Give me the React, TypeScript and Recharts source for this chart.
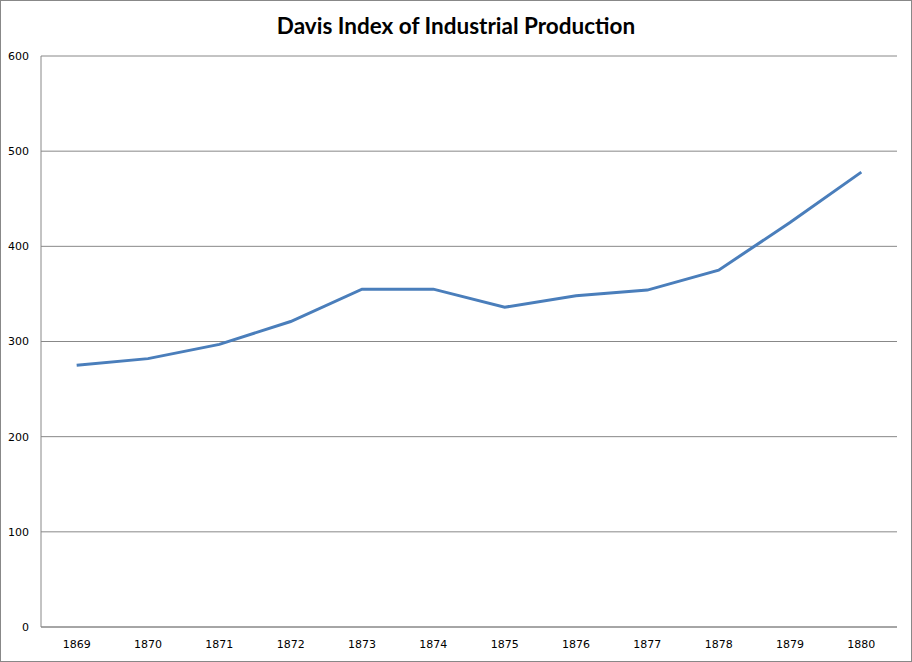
import React from 'react';
import { LineChart, Line, XAxis, YAxis, CartesianGrid } from 'recharts';

const years = ['1869', '1870', '1871', '1872', '1873', '1874', '1875', '1876', '1877', '1878', '1879', '1880'];
const davisIndex = [275, 282, 297, 321, 355, 355, 336, 348, 354, 375, 425, 478];
const yTicks = [0, 100, 200, 300, 400, 500, 600];

const data = years.map((year, i) => ({ year, value: davisIndex[i] }));

const labelFont = { fontFamily: 'Tahoma, "DejaVu Sans", Verdana, sans-serif', fontSize: 11, fill: '#000' };

export default function App() {
  const halfBand = (912 - 41 - 15) / years.length / 2;
  return (
    <div
      style={{
        position: 'fixed',
        top: 0,
        left: 0,
        width: 912,
        height: 662,
        boxSizing: 'border-box',
        border: '1px solid #888',
        background: '#fff',
      }}
    >
      <div
        style={{
          position: 'absolute',
          top: 11,
          left: 0,
          width: 910,
          textAlign: 'center',
          fontFamily: 'Lato, "Open Sans", sans-serif',
          fontWeight: 700,
          fontSize: 22.5,
          color: '#000',
        }}
      >
        Davis Index of Industrial Production
      </div>
      <div style={{ position: 'absolute', top: -1, left: -1 }}>
        <LineChart width={912} height={662} data={data} margin={{ top: 56, right: 15, bottom: 0, left: 0 }}>
          <CartesianGrid vertical={false} stroke="#888" strokeWidth={1} />
          <XAxis
            dataKey="year"
            height={35}
            padding={{ left: halfBand, right: halfBand }}
            tickLine={false}
            tickSize={0}
            tickMargin={13}
            axisLine={{ stroke: '#888' }}
            tick={labelFont}
            interval={0}
          />
          <YAxis
            width={41}
            domain={[0, 600]}
            ticks={yTicks}
            tickLine={false}
            tickSize={0}
            tickMargin={12}
            axisLine={{ stroke: '#888' }}
            tick={labelFont}
          />
          <Line
            type="linear"
            dataKey="value"
            stroke="#4a7ebb"
            strokeWidth={3}
            dot={false}
            isAnimationActive={false}
          />
        </LineChart>
      </div>
    </div>
  );
}
